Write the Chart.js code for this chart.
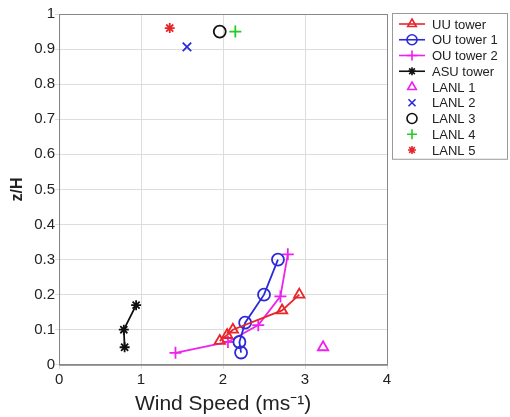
<!DOCTYPE html>
<html lang="en">
<head>
    <meta charset="UTF-8">
    <title>z/H vs wind speed</title>
    <style>
        body { margin: 0; background: #fff; }
        #wrap { width: 510px; height: 417px; }
    </style>
</head>
<body>
<script src="https://cdn.jsdelivr.net/npm/chart.js"></script>
<div id="wrap"><canvas id="mycanvas"></canvas></div>
<script>
    // tower profiles (wind speed, z/H)
    const uuSpeed = [1.96, 2.05, 2.12, 2.72, 2.93];
    const uuZ = [0.068, 0.085, 0.10, 0.155, 0.20];
    const ou1Speed = [2.22, 2.20, 2.27, 2.50, 2.67];
    const ou1Z = [0.035, 0.065, 0.12, 0.20, 0.30];
    const ou2Speed = [1.42, 2.06, 2.43, 2.70, 2.79];
    const ou2Z = [0.034, 0.065, 0.113, 0.195, 0.315];
    const asuSpeed = [0.80, 0.79, 0.94];
    const asuZ = [0.05, 0.10, 0.17];
    // LANL single points
    const lanlNames = ["LANL 1", "LANL 2", "LANL 3", "LANL 4", "LANL 5"];
    const lanlSpeed = [3.22, 1.56, 1.96, 2.15, 1.35];
    const lanlZ = [0.05, 0.906, 0.95, 0.95, 0.96];
    const xTicks = [0, 1, 2, 3, 4];
    const yTicks = [0, 0.1, 0.2, 0.3, 0.4, 0.5, 0.6, 0.7, 0.8, 0.9, 1];

    function pts(xs, ys) {
        return xs.map((x, i) => ({x: x, y: ys[i]}));
    }

    const towers = [
        {label: "UU tower", xs: uuSpeed, ys: uuZ, color: "#e8262a", style: "triangle"},
        {label: "OU tower 1", xs: ou1Speed, ys: ou1Z, color: "#2a2ad8", style: "circle"},
        {label: "OU tower 2", xs: ou2Speed, ys: ou2Z, color: "#ee22ee", style: "cross"},
        {label: "ASU tower", xs: asuSpeed, ys: asuZ, color: "#111111", style: "star"}
    ];
    const lanlColors = ["#ee22ee", "#2a2ad8", "#111111", "#22cc22", "#e8262a"];
    const lanlStyles = ["triangle", "crossRot", "circle", "cross", "star"];

    const datasets = [];
    towers.forEach(t => {
        datasets.push({
            label: t.label, data: pts(t.xs, t.ys), showLine: true,
            borderColor: t.color, backgroundColor: "rgba(0,0,0,0)",
            pointBorderColor: t.color, pointStyle: t.style,
            pointRadius: t.style === "star" ? 5 : 6, pointBorderWidth: 1.8, borderWidth: 1.8
        });
    });
    lanlNames.forEach((n, i) => {
        datasets.push({
            label: n, data: [{x: lanlSpeed[i], y: lanlZ[i]}], showLine: false,
            borderColor: lanlColors[i], backgroundColor: "rgba(0,0,0,0)",
            pointBorderColor: lanlColors[i], pointStyle: lanlStyles[i],
            pointRadius: lanlStyles[i] === "star" ? 5 : 6, pointBorderWidth: 1.8
        });
    });

    // box round the plot + boxed legend on the right (matlab look)
    const boxes = {
        id: "boxes",
        afterDraw(chart) {
            const ctx = chart.ctx, a = chart.chartArea;
            ctx.save();
            ctx.strokeStyle = "#888"; ctx.lineWidth = 1;
            ctx.strokeRect(a.left + 0.5, a.top + 0.5, a.right - a.left, a.bottom - a.top);

            const lx = a.right + 5, ly = 13, rowH = 15.75;
            const ds = chart.data.datasets;
            ctx.strokeStyle = "#999";
            ctx.strokeRect(lx + 0.5, ly + 0.5, 115, ds.length * rowH + 4);
            ctx.font = "13px 'Liberation Sans', Arial, sans-serif";
            ctx.textBaseline = "middle";
            ds.forEach((d, i) => {
                const cy = ly + 11 + i * rowH;
                ctx.strokeStyle = d.borderColor; ctx.fillStyle = "rgba(0,0,0,0)"; ctx.lineWidth = 1.6;
                if (d.showLine) {
                    ctx.beginPath(); ctx.moveTo(lx + 7, cy); ctx.lineTo(lx + 33, cy); ctx.stroke();
                }
                Chart.helpers.drawPoint(ctx, {pointStyle: d.pointStyle, radius: d.pointStyle === "star" ? 4 : 5, borderWidth: 1.6, rotation: 0}, lx + 20, cy);
                ctx.fillStyle = "#222";
                ctx.fillText(d.label, lx + 40, cy + 1);
            });
            ctx.restore();
        }
    };

    Chart.defaults.font.family = "'Liberation Sans', Arial, sans-serif";
    Chart.defaults.color = "#222";

    new Chart(document.getElementById("mycanvas"), {
        type: "scatter",
        data: {datasets: datasets},
        options: {
            responsive: true, maintainAspectRatio: false, animation: false,
            layout: {padding: {top: 14, right: 123, left: 0, bottom: 0}},
            scales: {
                x: {
                    type: "linear", min: 0, max: 4,
                    afterBuildTicks: s => { s.ticks = xTicks.map(v => ({value: v})); },
                    grid: {color: "#dddddd", tickLength: 4, drawTicks: true},
                    border: {color: "#888"},
                    ticks: {font: {size: 15}, padding: 2, maxRotation: 0, callback: v => String(v)},
                    title: {display: true, text: "Wind Speed (ms\u207B\u00B9)", font: {size: 21}, padding: {top: 1, bottom: 0}}
                },
                y: {
                    type: "linear", min: 0, max: 1,
                    afterBuildTicks: s => { s.ticks = yTicks.map(v => ({value: v})); },
                    grid: {color: "#dddddd", tickLength: 4},
                    border: {color: "#888"},
                    ticks: {font: {size: 15}, padding: 0, callback: v => String(Math.round(v * 10) / 10)},
                    title: {display: true, text: "z/H", font: {size: 16, weight: "bold"}, padding: {top: 8, bottom: 7}}
                }
            },
            plugins: {
                legend: {display: false},
                tooltip: {enabled: false}
            }
        },
        plugins: [boxes]
    });
</script>
</body>
</html>
